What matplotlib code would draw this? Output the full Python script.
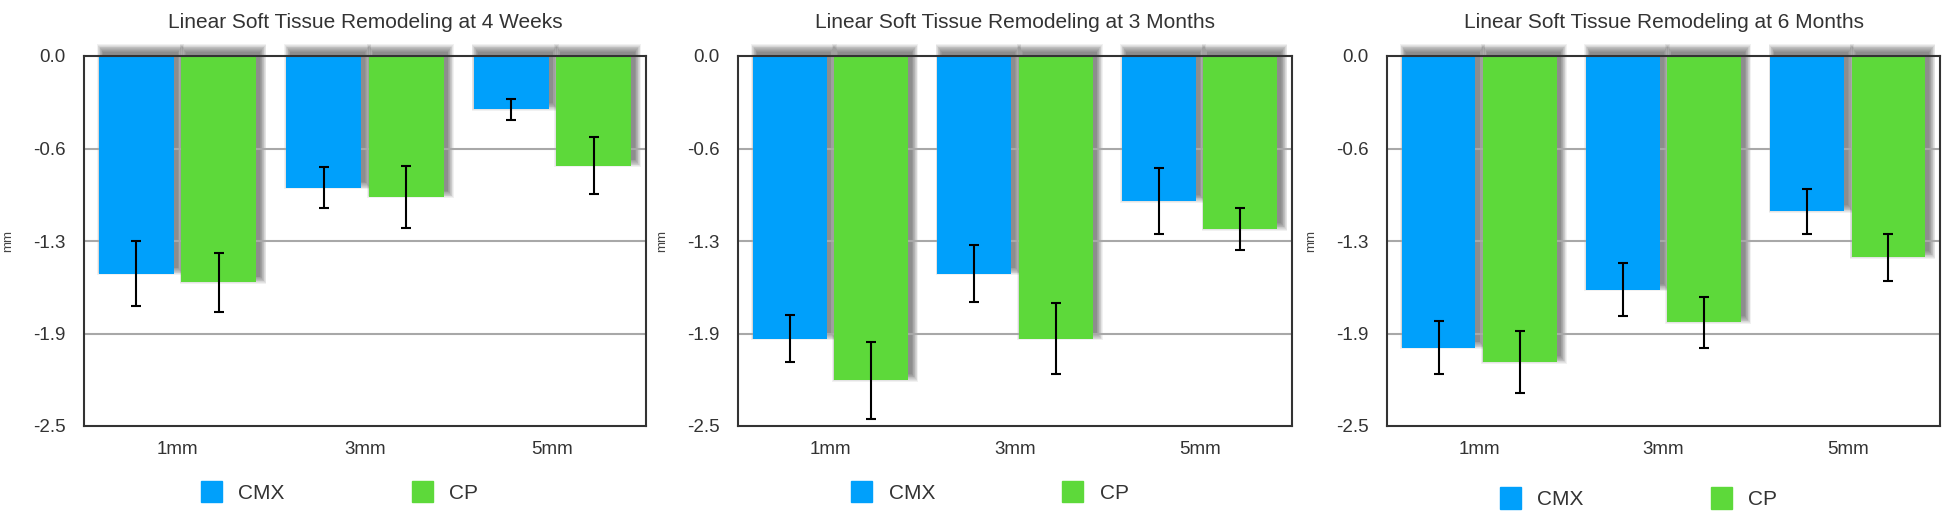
import matplotlib.pyplot as plt
import numpy as np
from matplotlib.patches import Patch

plt.rcParams['font.family'] = ['Liberation Sans', 'DejaVu Sans']

groups = ["1mm", "3mm", "5mm"]
titles = ["Linear Soft Tissue Remodeling at 4 Weeks",
          "Linear Soft Tissue Remodeling at 3 Months",
          "Linear Soft Tissue Remodeling at 6 Months"]

# mean change (mm) and error, one row per panel
cmx_mean = [[-1.47, -0.89, -0.36],
            [-1.91, -1.47, -0.98],
            [-1.97, -1.58, -1.05]]
cmx_err = [[0.22, 0.14, 0.07],
           [0.16, 0.19, 0.22],
           [0.18, 0.18, 0.15]]
cp_mean = [[-1.53, -0.95, -0.74],
           [-2.19, -1.91, -1.17],
           [-2.07, -1.80, -1.36]]
cp_err = [[0.20, 0.21, 0.19],
          [0.26, 0.24, 0.14],
          [0.21, 0.17, 0.16]]

yticks = [0, -0.625, -1.25, -1.875, -2.5]
ytick_labels = ["0.0", "-0.6", "-1.3", "-1.9", "-2.5"]

blue = "#00a0fb"
green = "#5dd93a"

fig = plt.figure(figsize=(19.5, 5.12), dpi=100)
lefts = [84, 738, 1387]
widths = [562, 554, 553]
legend_y = [-0.178, -0.178, -0.195]

x = np.arange(len(groups))
w = 0.4
off = 0.22

for i in range(3):
    ax = fig.add_axes([lefts[i] / 1950, 86 / 512, widths[i] / 1950, 370 / 512])
    ax.set_xlim(-0.5, 2.5)
    ax.set_ylim(-2.5, 0)

    # blurred drop shadow, shifted a little to the right and up
    for pos, vals in [(x - off, cmx_mean[i]), (x + off, cp_mean[i])]:
        top_edge = 0.03
        for s in np.linspace(0.0, 1.0, 10):
            eh = s * 0.032
            ev = s * 0.05
            ax.bar(pos + 0.022, np.array(vals) - top_edge + 0.04 - 2 * ev,
                   width=w + 2 * eh, bottom=top_edge + ev, color="black",
                   alpha=0.055, linewidth=0, clip_on=False, zorder=1)

    ax.bar(x - off, cmx_mean[i], width=w, color=blue, zorder=3)
    ax.bar(x + off, cp_mean[i], width=w, color=green, zorder=3)
    ax.errorbar(x - off, cmx_mean[i], yerr=cmx_err[i], fmt="none",
                ecolor="black", elinewidth=1.5, capsize=3.5, capthick=1.5, zorder=4)
    ax.errorbar(x + off, cp_mean[i], yerr=cp_err[i], fmt="none",
                ecolor="black", elinewidth=1.5, capsize=3.5, capthick=1.5, zorder=4)

    for yv in yticks[1:-1]:
        ax.axhline(yv, color="#a8a8a8", lw=1.5, zorder=2)

    ax.set_yticks(yticks)
    ax.set_yticklabels(ytick_labels)
    ax.set_xticks(x)
    ax.set_xticklabels(groups)
    ax.tick_params(length=0, labelsize=13.5, colors="#333333")
    ax.tick_params(axis="y", pad=13)
    ax.tick_params(axis="x", pad=11)
    for sp in ax.spines.values():
        sp.set_color("#333333")
        sp.set_linewidth(1.5)
        sp.set_zorder(5)

    ax.set_title(titles[i], fontsize=15, color="#333333", pad=20)
    ax.set_ylabel("mm", fontsize=9.5, color="#444444", labelpad=14)

    handles = [Patch(color=blue, label="CMX"), Patch(color=green, label="CP")]
    ax.legend(handles=handles, loc="center", bbox_to_anchor=(0.455, legend_y[i]),
              ncol=2, frameon=False, fontsize=15, handlelength=1.0,
              handleheight=1.2, handletextpad=0.8, columnspacing=6.1,
              labelcolor="#333333")

fig.savefig("out.png", dpi=100)
